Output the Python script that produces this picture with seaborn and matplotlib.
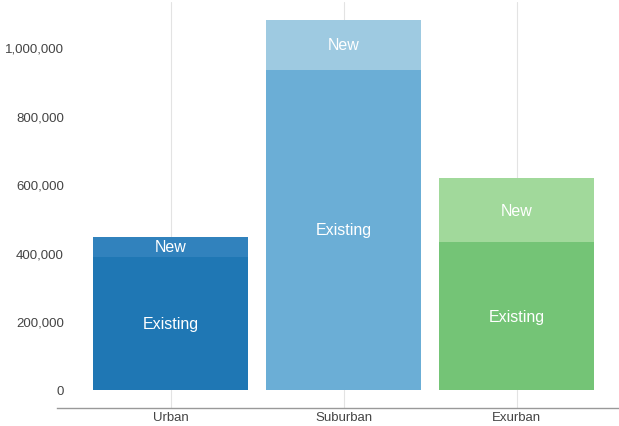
import numpy as np
import pandas as pd
import matplotlib
matplotlib.use("Agg")
import matplotlib.pyplot as plt
import seaborn as sns
from matplotlib.ticker import FuncFormatter

# Housing units by area type
areas = ["Urban", "Suburban", "Exurban"]
existing = [388000, 933000, 431000]
new_units = [58000, 146000, 187000]

existing_colors = ["#1f77b4", "#6baed6", "#74c476"]
new_colors = ["#3182bd", "#9ecae1", "#a1d99b"]

sns.set_theme(style="white")
plt.rcParams["font.family"] = ["Liberation Sans", "DejaVu Sans"]

df = pd.DataFrame({"area": areas, "existing": existing, "new": new_units})
df["total"] = df["existing"] + df["new"]

fig = plt.figure(figsize=(6.19, 4.27), dpi=100)
ax = fig.add_axes([57 / 619, 18 / 427, 562 / 619, 406 / 427])

# vertical guide lines behind the bars
for i in range(len(areas)):
    ax.axvline(i, color="#e3e3e3", lw=0.8, zorder=0)

# totals first (the "new" layer shows above the existing part)
sns.barplot(data=df, x="area", y="total", hue="area", palette=new_colors,
            width=0.896, legend=False, ax=ax, saturation=1,
            linewidth=0, zorder=2)
sns.barplot(data=df, x="area", y="existing", hue="area", palette=existing_colors,
            width=0.896, legend=False, ax=ax, saturation=1,
            linewidth=0, zorder=3)

for i, row in df.iterrows():
    ax.text(i, row["existing"] / 2, "Existing", ha="center", va="center",
            color="white", fontsize=11.5, zorder=5)
    ax.text(i, row["existing"] + row["new"] / 2, "New", ha="center", va="center",
            color="white", fontsize=11.5, zorder=5)

ax.set_xlim(-0.656, 2.592)
ax.set_ylim(-52500, 1131000)
ax.set_yticks([0, 200000, 400000, 600000, 800000, 1000000])
ax.yaxis.set_major_formatter(FuncFormatter(lambda v, p: f"{int(v):,}"))
ax.set_xlabel("")
ax.set_ylabel("")

for side in ["top", "right", "left"]:
    ax.spines[side].set_visible(False)
ax.spines["bottom"].set_color("#999999")
ax.spines["bottom"].set_linewidth(1)

ax.tick_params(axis="y", length=0, pad=-5, labelsize=9.5, labelcolor="#444444")
ax.tick_params(axis="x", length=0, pad=2, labelsize=9.5, labelcolor="#444444")
for lbl in ax.get_yticklabels():
    lbl.set_horizontalalignment("right")

fig.savefig("out.png", dpi=100)
